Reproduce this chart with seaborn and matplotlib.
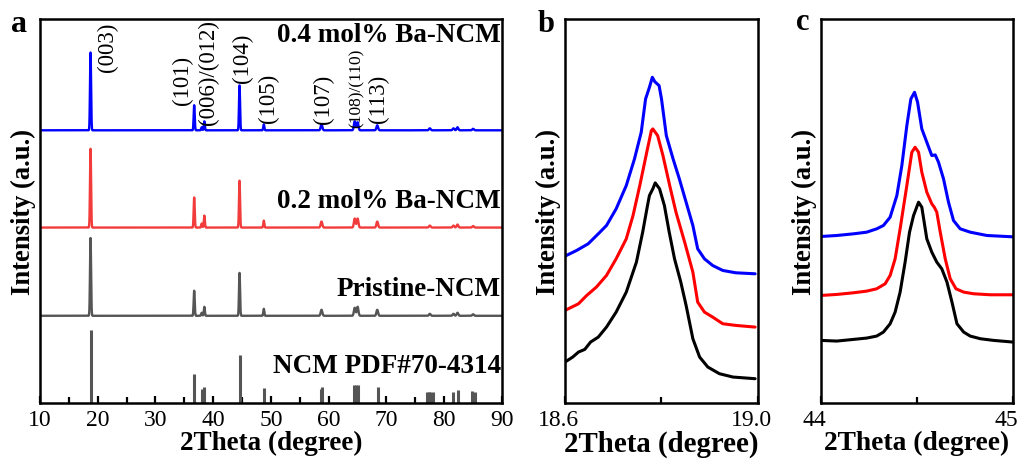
import numpy as np
import pandas as pd
import matplotlib
matplotlib.use("Agg")
import matplotlib.pyplot as plt
import matplotlib.transforms as mtrans
import seaborn as sns
from matplotlib.ticker import MultipleLocator, FixedLocator

# ---- panel a: peak lists (2theta, height above baseline, a.u.) ----
peak_pos = [18.75, 36.7, 38.0, 38.45, 44.55, 48.75, 58.75, 64.5, 65.0, 68.4, 77.5, 81.6, 82.3, 85.0]
blue_h = [78, 25, 3, 9, 45, 6, 6, 9, 8, 5, 2, 2, 3, 1.5]
red_h = [79, 30, 4, 12, 47, 7, 6, 9, 9, 6, 2, 2, 3, 1.5]
pristine_h = [78, 25, 3, 9, 43, 7, 6, 8, 9, 6, 2, 2, 3, 1.5]
base_blue, base_red, base_pristine = 272, 175, 87

# reference card NCM PDF#70-4314 sticks
pdf_pos = [18.75, 36.7, 38.0, 38.45, 44.55, 48.75, 58.6, 58.85, 64.45, 64.65, 65.0,
           68.45, 77.0, 77.3, 77.6, 78.0, 81.55, 82.3, 84.8, 85.3]
pdf_h = [73, 29, 14, 16, 48, 15, 14, 16, 18, 18, 18, 16, 11, 11, 11, 11, 11, 13, 12, 11]

# ---- panel b: (003) zoom, 2theta and intensity ----
b_x_black = [18.600, 18.616, 18.628, 18.641, 18.653, 18.669, 18.686, 18.706, 18.727, 18.748,
             18.761, 18.771, 18.775, 18.782, 18.787, 18.796, 18.806, 18.816, 18.827, 18.840,
             18.851, 18.865, 18.879, 18.896, 18.920, 18.948, 18.994]
b_y_black = [123, 138, 153, 161, 183, 198, 228, 273, 333, 423, 513, 593, 623, 643, 661, 643, 593,
             513, 433, 363, 293, 193, 138, 108, 88, 78, 73]
b_x_red = [18.600, 18.628, 18.645, 18.665, 18.686, 18.706, 18.727, 18.741, 18.755, 18.768,
           18.779, 18.782, 18.792, 18.803, 18.817, 18.830, 18.848, 18.865, 18.875, 18.889,
           18.906, 18.927, 18.954, 18.994]
b_y_red = [278, 298, 323, 348, 383, 433, 493, 563, 653, 743, 818, 823, 803, 743, 653, 573, 483,
           393, 303, 273, 258, 238, 233, 228]
b_x_blue = [18.600, 18.624, 18.648, 18.669, 18.686, 18.706, 18.727, 18.744, 18.758, 18.767,
            18.775, 18.781, 18.786, 18.795, 18.800, 18.810, 18.824, 18.837, 18.851, 18.865,
            18.875, 18.889, 18.906, 18.927, 18.954, 18.994]
b_y_blue = [441, 458, 478, 508, 533, 583, 653, 733, 813, 913, 948, 978, 965, 953, 913, 803, 733,
            673, 603, 533, 463, 433, 413, 398, 391, 388]

# ---- panel c: (104) zoom ----
c_x_black = [44.000, 44.082, 44.169, 44.238, 44.290, 44.325, 44.360, 44.386, 44.412, 44.438,
             44.461, 44.482, 44.508, 44.525, 44.551, 44.577, 44.603, 44.629, 44.656, 44.682,
             44.708, 44.743, 44.777, 44.830, 44.899, 45.000]
c_y_black = [188, 186, 191, 195, 201, 213, 238, 273, 333, 423, 513, 563, 603, 588, 493, 453, 423,
             403, 363, 303, 238, 213, 201, 193, 188, 183]
c_x_red = [44.000, 44.082, 44.169, 44.238, 44.290, 44.334, 44.360, 44.386, 44.412, 44.447,
           44.473, 44.490, 44.508, 44.525, 44.551, 44.577, 44.590, 44.603, 44.621, 44.647,
           44.673, 44.703, 44.743, 44.795, 44.882, 45.000]
c_y_red = [323, 326, 331, 336, 343, 358, 383, 433, 523, 653, 753, 768, 753, 693, 633, 598, 588,
           573, 513, 433, 373, 343, 333, 328, 325, 325]
c_x_blue = [44.000, 44.082, 44.169, 44.238, 44.290, 44.325, 44.360, 44.395, 44.421, 44.447,
            44.468, 44.487, 44.503, 44.525, 44.551, 44.577, 44.595, 44.612, 44.638, 44.664,
            44.690, 44.725, 44.777, 44.864, 45.000]
c_y_blue = [500, 503, 508, 513, 523, 533, 558, 623, 713, 833, 913, 933, 903, 823, 783, 743, 745,
            723, 673, 603, 548, 523, 513, 503, 499]

BLUE = "#0000FF"
RED = "#F23C3C"
GRAY = "#555555"

sns.set_style("ticks")
plt.rcParams['font.family'] = ['Liberation Serif', 'DejaVu Serif']
plt.rcParams['text.color'] = 'black'
plt.rcParams['axes.labelcolor'] = 'black'


def pattern(base, heights, grid):
    # render the peak list as narrow gaussian profiles on a baseline
    y = np.full_like(grid, float(base))
    for p, h in zip(peak_pos, heights):
        sig = 0.09 if p < 50 else 0.14
        y += h * np.exp(-0.5 * ((grid - p) / sig) ** 2)
    return y


fig = plt.figure(figsize=(10.18, 4.60), dpi=100)
ax_a = fig.add_axes([0.0393, 0.1217, 0.4538, 0.8348])
ax_b = fig.add_axes([0.5550, 0.1217, 0.1896, 0.8348])
ax_c = fig.add_axes([0.8065, 0.1217, 0.1886, 0.8348])

# ---- panel a ----
grid = np.arange(10, 90.001, 0.02)
df_a = pd.DataFrame({
    "2theta": np.tile(grid, 3),
    "I": np.concatenate([pattern(base_blue, blue_h, grid),
                         pattern(base_red, red_h, grid),
                         pattern(base_pristine, pristine_h, grid)]),
    "sample": np.repeat(["0.4", "0.2", "pristine"], len(grid)),
})
sns.lineplot(data=df_a, x="2theta", y="I", hue="sample",
             palette={"0.4": BLUE, "0.2": RED, "pristine": GRAY},
             lw=1.7, legend=False, ax=ax_a, estimator=None)
ax_a.vlines(pdf_pos, 0, pdf_h, color=GRAY, lw=2.2)

ax_a.set_xlim(10, 90)
ax_a.set_ylim(0, 383)
ax_a.set_yticks([])
ax_a.xaxis.set_major_locator(MultipleLocator(10))
ax_a.xaxis.set_minor_locator(MultipleLocator(5))
ax_a.set_xlabel("2Theta (degree)", fontsize=19.5, fontweight="bold", labelpad=0)
ax_a.set_ylabel("Intensity (a.u.)", fontsize=19.2, fontweight="bold", labelpad=3)

hkl = [("(003)", 21.6, 356, 16.5), ("(101)", 34.6, 323, 16.5), ("(006)/(012)", 39.1, 331, 16.5),
       ("(104)", 45.0, 345, 16.5), ("(105)", 49.5, 305, 16.5), ("(107)", 59.0, 304, 16.5),
       ("(108)/(110)", 64.9, 315, 12.5), ("(113)", 68.6, 304, 16.5)]
for s, x, y, fs in hkl:
    ax_a.text(x, y, s, rotation=90, ha="center", va="center", fontsize=fs)

for s, y in [("0.4 mol% Ba-NCM", 368), ("0.2 mol% Ba-NCM", 202),
             ("Pristine-NCM", 114), ("NCM PDF#70-4314", 37)]:
    ax_a.text(89.8, y, s, ha="right", va="center", fontsize=19.5, fontweight="bold", color="black")

# ---- panel b ----
for xs, ys, c in [(b_x_black, b_y_black, "black"), (b_x_red, b_y_red, "#FF0000"),
                  (b_x_blue, b_y_blue, BLUE)]:
    sns.lineplot(x=xs, y=ys, color=c, lw=2.2, sort=False, estimator=None, ax=ax_b)
ax_b.set_xlim(18.6, 19.0)
ax_b.set_ylim(0, 1153)
ax_b.set_yticks([])
ax_b.xaxis.set_major_locator(FixedLocator([18.6, 19.0]))
ax_b.xaxis.set_minor_locator(FixedLocator([18.8]))
ax_b.set_xticklabels(["18.6", "19.0"])
ax_b.set_xlabel("2Theta (degree)", fontsize=20.8, fontweight="bold", labelpad=0)
ax_b.set_ylabel("Intensity (a.u.)", fontsize=19.2, fontweight="bold", labelpad=3)

# ---- panel c ----
for xs, ys, c in [(c_x_black, c_y_black, "black"), (c_x_red, c_y_red, "#FF0000"),
                  (c_x_blue, c_y_blue, BLUE)]:
    sns.lineplot(x=xs, y=ys, color=c, lw=2.2, sort=False, estimator=None, ax=ax_c)
ax_c.set_xlim(44, 45)
ax_c.set_ylim(0, 1153)
ax_c.set_yticks([])
ax_c.xaxis.set_major_locator(FixedLocator([44, 45]))
ax_c.xaxis.set_minor_locator(FixedLocator([44.5]))
ax_c.set_xlabel("2Theta (degree)", fontsize=19.8, fontweight="bold", labelpad=0)
ax_c.set_ylabel("Intensity (a.u.)", fontsize=19.2, fontweight="bold", labelpad=3)

for ax in (ax_a, ax_b, ax_c):
    for sp in ax.spines.values():
        sp.set_visible(True)
        sp.set_linewidth(1.8)
        sp.set_color("black")
    ax.tick_params(axis="x", which="both", direction="in", width=1.6, labelsize=17,
                   pad=4, colors="black")
    ax.tick_params(axis="x", which="major", length=5)
    ax.tick_params(axis="x", which="minor", length=4)

# tick labels of the zoom panels sit a little left of their ticks
shift = mtrans.ScaledTranslation(-7 / 100, 0, fig.dpi_scale_trans)
for ax in (ax_b, ax_c):
    for lab in ax.get_xticklabels():
        lab.set_transform(lab.get_transform() + shift)

fig.text(0.019, 0.930, "a", fontsize=23, fontweight="bold", ha="center", va="baseline")
fig.text(0.536, 0.930, "b", fontsize=22, fontweight="bold", ha="center", va="baseline")
fig.text(0.789, 0.935, "c", fontsize=22, fontweight="bold", ha="center", va="baseline")

fig.savefig("out.png", dpi=100)
